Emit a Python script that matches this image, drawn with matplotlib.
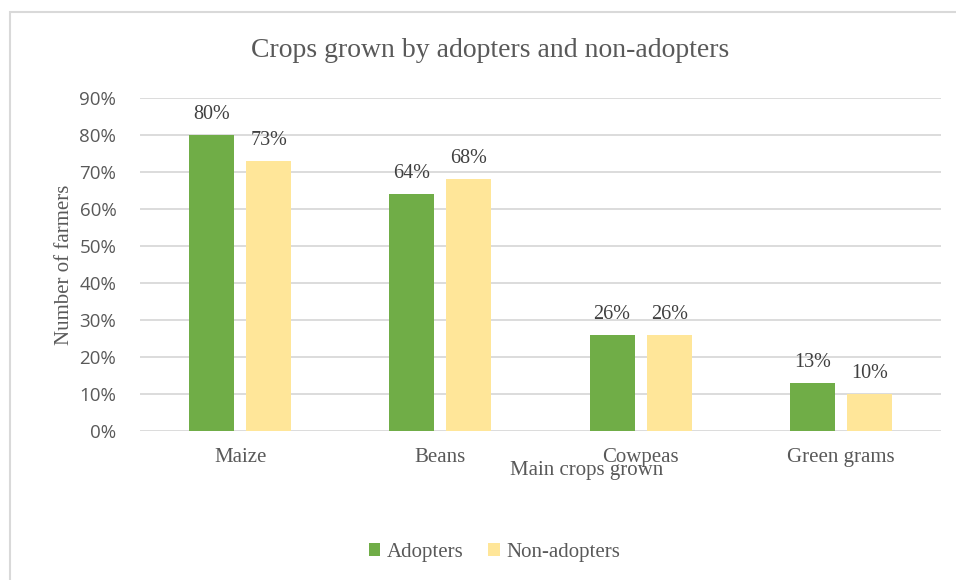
import numpy as np
import matplotlib.pyplot as plt
from matplotlib.patches import Rectangle

crops = ['Maize', 'Beans', 'Cowpeas', 'Green grams']
adopters = [80, 64, 26, 13]
non_adopters = [73, 68, 26, 10]

green = '#70AD47'
yellow = '#FFE699'
serif = ['Liberation Serif', 'DejaVu Serif']
sans = ['Open Sans', 'DejaVu Sans']

fig = plt.figure(figsize=(9.56, 5.8), dpi=100)
ax = fig.add_axes([0.1464, 0.2569, 0.8379, 0.5741])

# outer chart frame, runs off the right and bottom edges
fig.patches.append(Rectangle((0.0105, -0.1), 1.2, 1.079, transform=fig.transFigure,
                             fill=False, edgecolor='#D9D9D9', linewidth=1.5))

x = np.arange(len(crops))
w = 0.225
off = 0.1425
b1 = ax.bar(x - off, adopters, w, color=green, label='Adopters', zorder=3)
b2 = ax.bar(x + off, non_adopters, w, color=yellow, label='Non-adopters', zorder=3)

for bars, vals in ((b1, adopters), (b2, non_adopters)):
    for b, v in zip(bars, vals):
        ax.text(b.get_x() + b.get_width() / 2, v + 3.0, f'{v}%', ha='center', va='bottom',
                fontsize=14.5, family=serif, color='#404040')

ax.set_xlim(-0.5, len(crops) - 0.5)
ax.set_ylim(0, 90)
ax.set_yticks(np.arange(0, 91, 10))
ax.set_yticklabels([f'{t}%' for t in range(0, 91, 10)], family=sans, fontsize=13.5, color='#595959')
ax.set_xticks(x)
ax.set_xticklabels(crops, family=serif, fontsize=15, color='#595959')
ax.tick_params(length=0)
ax.tick_params(axis='y', pad=17)
ax.tick_params(axis='x', pad=12)
ax.grid(axis='y', color='#D9D9D9', linewidth=1.3, zorder=0)
for s in ax.spines.values():
    s.set_visible(False)

ax.set_ylabel('Number of farmers', family=serif, fontsize=15, color='#595959', labelpad=4)
fig.text(0.614, 0.188, 'Main crops grown', ha='center', va='center',
         family=serif, fontsize=15, color='#595959')
fig.text(0.513, 0.913, 'Crops grown by adopters and non-adopters', ha='center', va='center',
         family=serif, fontsize=20, color='#595959')

fig.legend(handles=[b1, b2], loc='center', bbox_to_anchor=(0.517, 0.048), ncol=2, frameon=False,
           prop={'family': serif, 'size': 15}, labelcolor='#595959', handlelength=0.55,
           handleheight=0.55, handletextpad=0.3, columnspacing=1.2)

fig.savefig('out.png', dpi=100)
